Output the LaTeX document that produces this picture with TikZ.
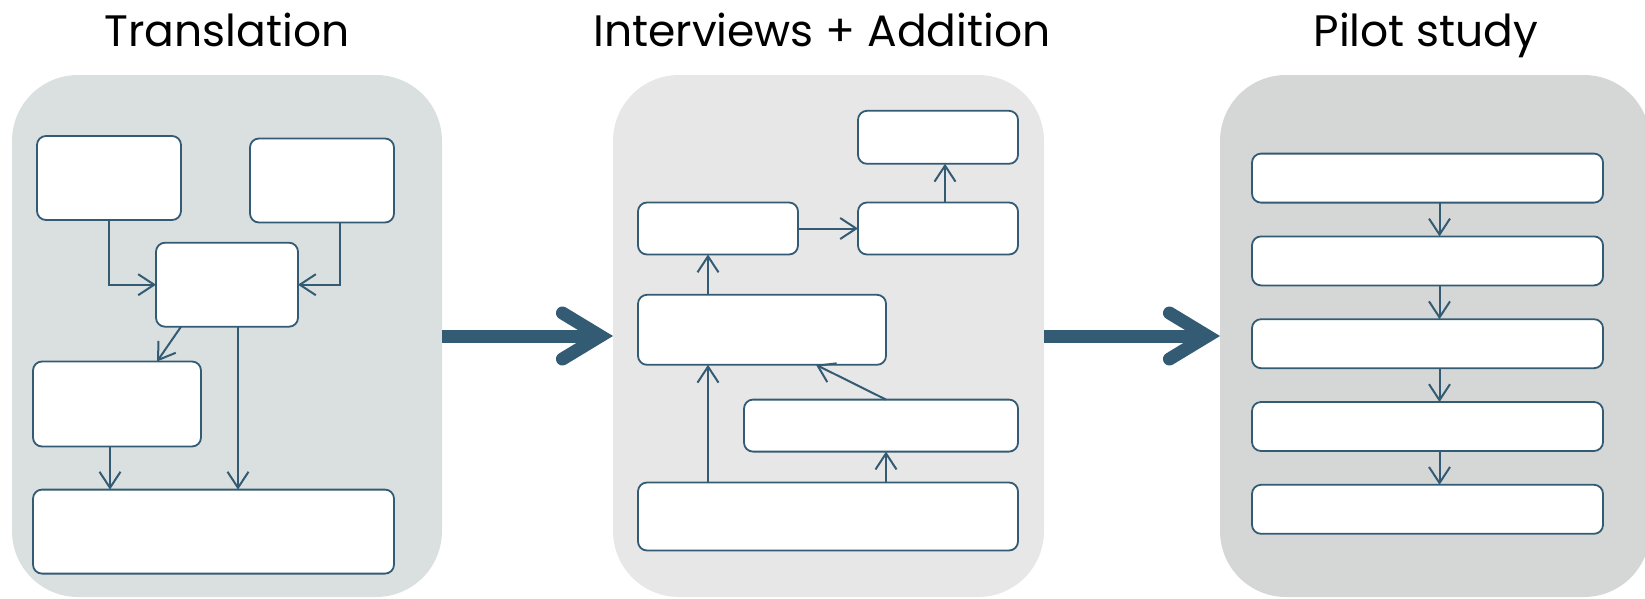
\documentclass[tikz,border=0pt]{standalone}
\usepackage{fontspec}
\setmainfont{Poppins}
\usetikzlibrary{arrows.meta}
\definecolor{lineblue}{HTML}{335B74}
\definecolor{paneltr}{HTML}{DAE0E0}
\definecolor{panelint}{HTML}{E7E7E7}
\definecolor{panelpil}{HTML}{D5D7D6}

\begin{document}
\begin{tikzpicture}[x=1pt,y=-1pt]
    \tikzstyle{panel} = [rounded corners=66, inner sep=0, outer sep=0]
    \tikzstyle{box} = [draw=lineblue, fill=white, line width=1.8, rounded corners=9, inner sep=0, outer sep=0]
    \tikzstyle{arr} = [draw=lineblue, line width=2, -{Straight Barb[length=16pt,width=21pt]}]
    \tikzstyle{bigarr} = [draw=lineblue, line width=13, -{Straight Barb[length=38pt,width=46pt,line cap=round]}]
    \tikzstyle{title} = [font=\fontsize{44}{50}\selectfont, anchor=base, inner sep=0]

    \useasboundingbox (0,0) rectangle (1645,598);

    \node[panel, fill=paneltr, minimum width=430, minimum height=522] (p1) at (227,336) {};
    \node[panel, fill=panelint, minimum width=431, minimum height=522] (p2) at (828.5,336) {};
    \node[panel, fill=panelpil, minimum width=430, minimum height=522] (p3) at (1435,336) {};

    \node[title] (t1) at (227,46) {Translation};
    \node[title] (t2) at (822,46) {Interviews + Addition};
    \node[title] (t3) at (1426,46) {Pilot study};

    \node[box, minimum width=144, minimum height=84] (1) at (109,178) {};
    \node[box, minimum width=144, minimum height=84] (2) at (322,180.5) {};
    \node[box, minimum width=142, minimum height=84] (3) at (227,284.7) {};
    \node[box, minimum width=168, minimum height=85] (4) at (117,404) {};
    \node[box, minimum width=361, minimum height=84] (5) at (213.5,531.6) {};

    \node[box, minimum width=160, minimum height=53] (6) at (938,137.3) {};
    \node[box, minimum width=160, minimum height=52] (7) at (718,228.5) {};
    \node[box, minimum width=160, minimum height=52] (8) at (938,228.5) {};
    \node[box, minimum width=248, minimum height=70] (9) at (762,329.8) {};
    \node[box, minimum width=274, minimum height=52] (10) at (881,425.6) {};
    \node[box, minimum width=380, minimum height=68] (11) at (828,516.5) {};

    \matrix[nodes={box, minimum width=351, minimum height=49},
        row sep=32] at (1427.5,343.7) {
    \node (12) {}; \\
    \node (13) {}; \\
    \node (14) {}; \\
    \node (15) {}; \\
    \node (16) {}; \\
    };

    \draw[bigarr] (p1) -- (p2);
    \draw[bigarr] (p2) -- (p3);

    \draw[arr] (1) |- (3);
    \draw[arr] ([xshift=18]2.south) |- (3);
    \draw[arr] ([xshift=-46]3.south) -- ([xshift=40]4.north);
    \draw[arr] ([xshift=11]3.south) -- ([xshift=11]3.south |- 5.north);
    \draw[arr] ([xshift=-7]4.south) -- ([xshift=-7]4.south |- 5.north);

    \draw[arr] (7) -- (8);
    \draw[arr] ([xshift=7]8.north) -- ([xshift=7]8.north |- 6.south);
    \draw[arr] ([xshift=-10]7.south |- 9.north) -- ([xshift=-10]7.south);
    \draw[arr] ([xshift=-10]7.south |- 11.north) -- ([xshift=-10]7.south |- 9.south);
    \draw[arr] ([xshift=5]10.south |- 11.north) -- ([xshift=5]10.south);
    \draw[arr] ([xshift=5]10.north) -- ([xshift=54]9.south);

    \draw[arr] ([xshift=12]12.south) -- ([xshift=12]13.north);
    \draw[arr] ([xshift=12]13.south) -- ([xshift=12]14.north);
    \draw[arr] ([xshift=12]14.south) -- ([xshift=12]15.north);
    \draw[arr] ([xshift=12]15.south) -- ([xshift=12]16.north);

\end{tikzpicture}
\end{document}
